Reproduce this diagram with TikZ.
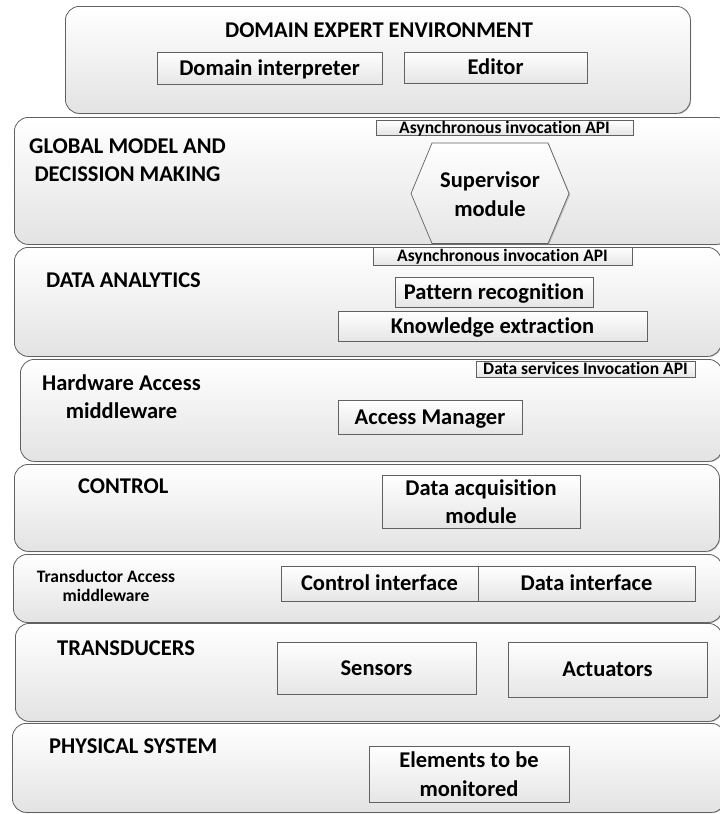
\documentclass[tikz,border=0pt]{standalone}
\usepackage{fontspec}
\setmainfont{Carlito}[Ligatures=NoCommon]
\usetikzlibrary{shadows}

\tikzset{
  bigtext/.style={font=\bfseries\fontsize{22.5}{28.5}\selectfont},
  smalltext/.style={font=\bfseries\fontsize{17.5}{19.5}\selectfont},
  edge/.style={draw=black!62, line width=0.8pt},
  layer/.style={edge, rounded corners=14pt, top color=white, bottom color=black!11,
    anchor=north west, inner sep=0pt,
    drop shadow={shadow xshift=0.8pt, shadow yshift=-0.8pt, fill=black!45, opacity=0.45}},
  part/.style={edge, line width=0.7pt, top color=white, bottom color=black!10, inner sep=0pt,
    drop shadow={shadow xshift=1.2pt, shadow yshift=-1.2pt, fill=black!45, opacity=0.45}},
  bigline/.style={bigtext, text height=14.5pt, text depth=0pt},
  smallline/.style={smalltext, text height=11.3pt, text depth=0pt},
  title/.style={bigtext, anchor=base west, inner sep=0pt},
  twoline/.style={bigtext, align=center, inner sep=0pt},
}

\begin{document}
\begin{tikzpicture}[x=1pt, y=-1pt]
\useasboundingbox (0,0) rectangle (720,814);
\clip (0,0) rectangle (720,814);
\fill[white] (0,0) rectangle (720,814);

% ---------- layers ----------
\node[layer, minimum width=625, minimum height=107] (domain)      at (65,6)   {};
\node[layer, minimum width=716, minimum height=127] (global)      at (14,117) {};
\node[layer, minimum width=707, minimum height=109] (analytics)   at (14,247) {};
\node[layer, minimum width=702, minimum height=102] (hardware)    at (20,359) {};
\node[layer, minimum width=705, minimum height=87]  (control)     at (14,464) {};
\node[layer, minimum width=709, minimum height=68]  (transductor) at (13,554) {};
\node[layer, minimum width=707, minimum height=98]  (transducers) at (15,623) {};
\node[layer, minimum width=713, minimum height=89]  (physical)    at (12,723) {};

% ---------- layer titles ----------
\node[bigtext, anchor=base, inner sep=0pt] (tdomain) at (379,37.5) {DOMAIN EXPERT ENVIRONMENT};
\node[twoline] (tglobal) at (127.5,160) {GLOBAL MODEL AND\\DECISSION MAKING};
\node[title] (tanalytics) at (46,287) {DATA ANALYTICS};
\node[twoline] (thardware) at (121.5,396.5) {Hardware Access\\middleware};
\node[title] (tcontrol) at (78,493) {CONTROL};
\node[smalltext, align=center, inner sep=0pt] (ttransductor) at (106,586) {Transductor Access\\middleware};
\node[title] (ttransducers) at (57,655) {TRANSDUCERS};
\node[title] (tphysical) at (49,753) {PHYSICAL SYSTEM};

% ---------- domain expert environment ----------
\node[part, bigline, minimum width=225, minimum height=32] (interp) at (269.5,68) {Domain interpreter};
\node[part, bigline, minimum width=183, minimum height=31] (editor) at (495.5,67.5) {Editor};

% ---------- global model ----------
\node[part, smallline, minimum width=257, minimum height=15] (api1) at (504.5,127.5) {Asynchronous invocation API};
\path[part] (411,193.5) -- (432,143) -- (548,143) -- (569,193.5) -- (548,243.5) -- (432,243.5) -- cycle;
\node[twoline] (supervisor) at (490,194) {Supervisor\\module};

% ---------- data analytics ----------
\node[part, smallline, minimum width=259, minimum height=18] (api2) at (502.5,256) {Asynchronous invocation API};
\node[part, bigline, minimum width=198, minimum height=30] (pattern) at (494,292) {Pattern recognition};
\node[part, bigline, minimum width=309, minimum height=30] (knowledge) at (492.5,326) {Knowledge extraction};

% ---------- hardware access middleware ----------
\node[part, smallline, minimum width=219, minimum height=16] (dsapi) at (585.5,369) {Data services Invocation API};
\node[part, bigline, minimum width=184, minimum height=34] (access) at (430,417) {Access Manager};

% ---------- control ----------
\node[part, twoline, minimum width=198, minimum height=53] (daq) at (481,501.5) {Data acquisition\\module};

% ---------- transductor access middleware ----------
\node[part, bigline, minimum width=197, minimum height=35] (ctrlif) at (379.5,583.5) {Control interface};
\node[part, bigline, minimum width=217, minimum height=35] (dataif) at (586.5,583.5) {Data interface};

% ---------- transducers ----------
\node[part, bigline, minimum width=199, minimum height=52] (sensors) at (376.5,668) {Sensors};
\node[part, bigline, minimum width=199, minimum height=55] (actuators) at (607.5,669.5) {Actuators};

% ---------- physical system ----------
\node[part, twoline, minimum width=200, minimum height=56] (elements) at (469,774) {Elements to be\\monitored};
\end{tikzpicture}
\end{document}
